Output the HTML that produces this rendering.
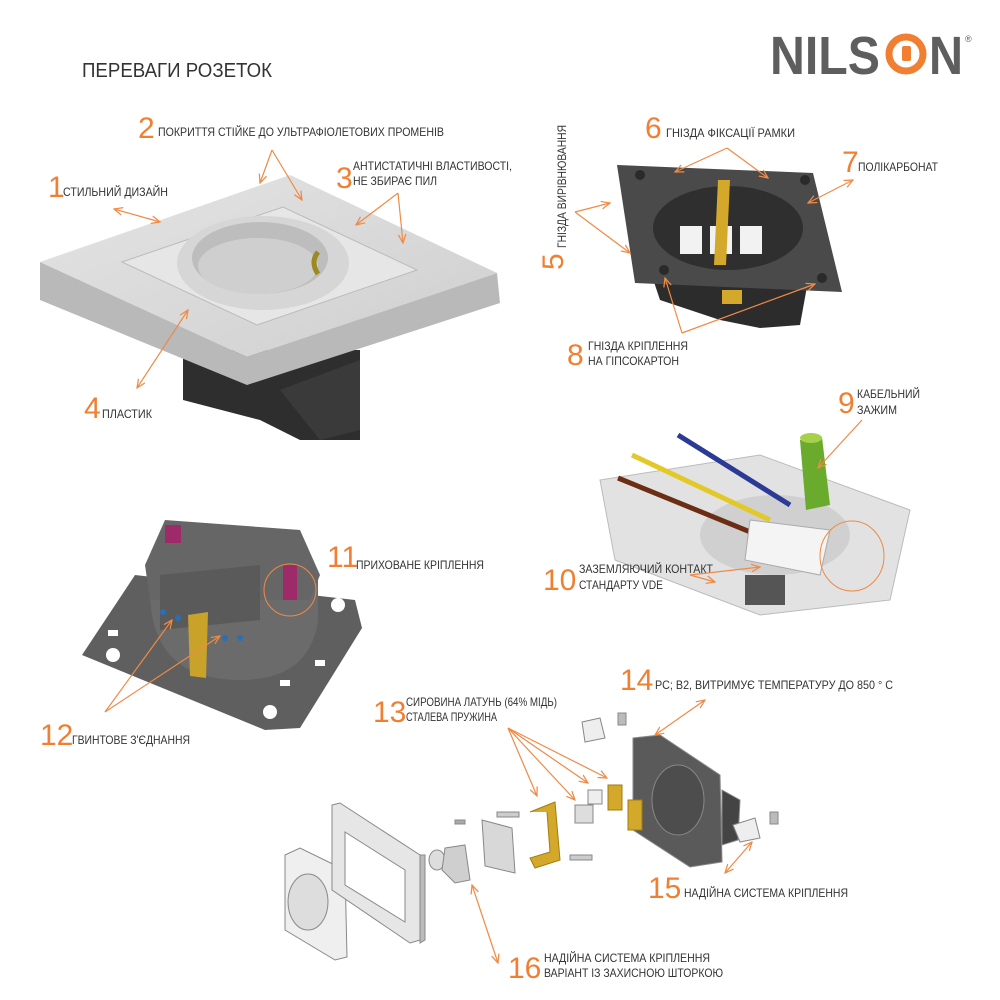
<!DOCTYPE html>
<html><head><meta charset="utf-8"><style>
body{margin:0;background:#fff}
svg{display:block}
.n{font-family:"Liberation Sans",sans-serif;fill:#f07f32;font-size:30px}
.t{font-family:"Liberation Sans",sans-serif;fill:#333;font-size:12px}
.a{stroke:#f08a45;stroke-width:1.2;fill:none;marker-start:url(#h);marker-end:url(#h)}
.s{stroke:#f08a45;stroke-width:1.2;fill:none;marker-end:url(#h)}
</style></head><body>
<svg width="1000" height="1000" viewBox="0 0 1000 1000" xmlns="http://www.w3.org/2000/svg">
<defs>
<marker id="h" viewBox="0 0 10 10" refX="9" refY="5" markerWidth="8" markerHeight="8" orient="auto-start-reverse"><path d="M0,1 L9,5 L0,9" fill="none" stroke="#f08a45" stroke-width="1.3"/></marker>
<linearGradient id="pl" x1="0" y1="0" x2="1" y2="1"><stop offset="0" stop-color="#e4e4e4"/><stop offset="1" stop-color="#cfcfcf"/></linearGradient>
</defs>
<text x="82" y="77" style="font-family:'Liberation Sans',sans-serif;font-size:20px;fill:#333" textLength="190" lengthAdjust="spacingAndGlyphs">ПЕРЕВАГИ РОЗЕТОК</text>
<!-- logo -->
<text x="770" y="74" style="font-family:'Liberation Sans',sans-serif;font-weight:bold;font-size:54px;fill:#5e5e5e" textLength="110" lengthAdjust="spacingAndGlyphs">NILS</text>
<circle cx="906" cy="54" r="17" fill="none" stroke="#f07f32" stroke-width="7"/>
<rect x="902" y="46" width="9" height="15" rx="2" fill="#f07f32"/>
<text x="929" y="74" style="font-family:'Liberation Sans',sans-serif;font-weight:bold;font-size:54px;fill:#5e5e5e" textLength="34" lengthAdjust="spacingAndGlyphs">N</text>
<text x="965" y="42" style="font-family:'Liberation Sans',sans-serif;font-size:9px;fill:#5e5e5e">®</text>

<!-- socket 1 -->
<g>
<polygon points="183,350 360,350 360,440 300,440 260,420 183,400" fill="#2e2e2e"/>
<polygon points="280,390 360,360 360,430 320,440" fill="#3a3a3a"/>
<polygon points="40,262 40,300 247,385 500,303 497,273 247,357" fill="#b9b9b9"/>
<polygon points="40,262 290,175 497,273 247,357" fill="url(#pl)"/>
<polygon points="122,262 283,207 417,270 257,325" fill="#e6e6e6" stroke="#bbb"/>
<ellipse cx="263" cy="263" rx="86" ry="47" fill="#d6d6d6"/>
<ellipse cx="260" cy="258" rx="68" ry="36" fill="#bdbdbd"/>
<ellipse cx="258" cy="266" rx="60" ry="28" fill="#cfcfcf"/>
<path d="M318,252 q-8,10 0,22" stroke="#9a8a20" stroke-width="5" fill="none"/>
</g>
<text class="n" x="138" y="138">2</text><text class="t" x="158" y="136" textLength="286" lengthAdjust="spacingAndGlyphs">ПОКРИТТЯ СТІЙКЕ ДО УЛЬТРАФІОЛЕТОВИХ ПРОМЕНІВ</text>
<line class="s" x1="272" y1="150" x2="260" y2="183"/><line class="s" x1="272" y1="150" x2="302" y2="200"/>
<text class="n" x="336" y="188">3</text><text class="t" x="353" y="170" textLength="159" lengthAdjust="spacingAndGlyphs">АНТИСТАТИЧНІ ВЛАСТИВОСТІ,</text><text class="t" x="353" y="185" textLength="84" lengthAdjust="spacingAndGlyphs">НЕ ЗБИРАЄ ПИЛ</text>
<line class="s" x1="398" y1="193" x2="356" y2="225"/><line class="s" x1="398" y1="193" x2="403" y2="243"/>
<text class="n" x="48" y="197">1</text><text class="t" x="63" y="196" textLength="105" lengthAdjust="spacingAndGlyphs">СТИЛЬНИЙ ДИЗАЙН</text>
<line class="a" x1="114" y1="209" x2="160" y2="222"/>
<text class="n" x="84" y="418">4</text><text class="t" x="102" y="418" textLength="50" lengthAdjust="spacingAndGlyphs">ПЛАСТИК</text>
<line class="a" x1="137" y1="388" x2="188" y2="310"/>

<!-- socket 2 -->
<g>
<polygon points="650,270 810,270 800,325 760,328 720,320 660,300" fill="#2c2c2c"/>
<polygon points="617,165 813,173 842,292 635,283" fill="#4a4a4a"/>
<ellipse cx="728" cy="228" rx="75" ry="42" fill="#2f2f2f"/>
<rect x="680" y="226" width="22" height="28" fill="#f2f2f2"/><rect x="710" y="226" width="22" height="28" fill="#f2f2f2"/><rect x="740" y="226" width="22" height="28" fill="#f2f2f2"/>
<polygon points="718,180 730,180 726,265 714,265" fill="#d4a82a"/>
<rect x="722" y="290" width="20" height="14" fill="#d4a82a"/>
<circle cx="640" cy="175" r="5" fill="#2a2a2a"/><circle cx="805" cy="180" r="5" fill="#2a2a2a"/><circle cx="664" cy="270" r="5" fill="#2a2a2a"/><circle cx="822" cy="278" r="5" fill="#2a2a2a"/>
</g>
<text class="n" x="645" y="138">6</text><text class="t" x="666" y="137" textLength="129" lengthAdjust="spacingAndGlyphs">ГНІЗДА ФІКСАЦІЇ РАМКИ</text>
<line class="s" x1="727" y1="148" x2="675" y2="172"/><line class="s" x1="727" y1="148" x2="768" y2="178"/>
<text class="n" x="842" y="172">7</text><text class="t" x="858" y="171" textLength="80" lengthAdjust="spacingAndGlyphs">ПОЛІКАРБОНАТ</text>
<line class="a" x1="853" y1="180" x2="808" y2="203"/>
<text class="n" x="563" y="270" transform="rotate(-90 563 270)" style="font-size:30px">5</text>
<text class="t" x="566" y="248" transform="rotate(-90 566 248)" textLength="123" lengthAdjust="spacingAndGlyphs">ГНІЗДА ВИРІВНЮВАННЯ</text>
<line class="s" x1="575" y1="212" x2="610" y2="203"/><line class="s" x1="575" y1="212" x2="630" y2="253"/>
<text class="n" x="567" y="365">8</text><text class="t" x="588" y="350" textLength="100" lengthAdjust="spacingAndGlyphs">ГНІЗДА КРІПЛЕННЯ</text><text class="t" x="588" y="365" textLength="91" lengthAdjust="spacingAndGlyphs">НА ГІПСОКАРТОН</text>
<line class="s" x1="682" y1="333" x2="665" y2="278"/><line class="s" x1="682" y1="333" x2="815" y2="284"/>

<!-- socket 3 -->
<g>
<polygon points="600,480 760,455 910,510 890,600 760,615 615,560" fill="#e2e2e2" stroke="#bbb"/>
<ellipse cx="775" cy="535" rx="75" ry="40" fill="#d0d0d0"/>
<line x1="678" y1="435" x2="790" y2="505" stroke="#2b3a94" stroke-width="5"/>
<line x1="632" y1="455" x2="770" y2="520" stroke="#e2c927" stroke-width="5"/>
<line x1="618" y1="478" x2="770" y2="540" stroke="#6b2e15" stroke-width="5"/>
<polygon points="800,440 822,437 830,505 806,510" fill="#6aab2e"/>
<ellipse cx="811" cy="438" rx="11" ry="5" fill="#a8d14a"/>
<polygon points="750,520 830,530 820,575 745,560" fill="#f4f4f4" stroke="#aaa"/>
<rect x="745" y="575" width="40" height="30" fill="#555"/>
<ellipse cx="852" cy="556" rx="32" ry="35" fill="none" stroke="#f08a45"/>
</g>
<text class="n" x="838" y="413">9</text><text class="t" x="857" y="398" textLength="63" lengthAdjust="spacingAndGlyphs">КАБЕЛЬНИЙ</text><text class="t" x="857" y="414" textLength="40" lengthAdjust="spacingAndGlyphs">ЗАЖИМ</text>
<line class="s" x1="862" y1="420" x2="818" y2="468"/>
<text class="n" x="543" y="590">10</text><text class="t" x="579" y="573" textLength="134" lengthAdjust="spacingAndGlyphs">ЗАЗЕМЛЯЮЧИЙ КОНТАКТ</text><text class="t" x="579" y="589" textLength="84" lengthAdjust="spacingAndGlyphs">СТАНДАРТУ VDE</text>
<line class="s" x1="690" y1="575" x2="760" y2="567"/><line class="s" x1="690" y1="575" x2="715" y2="582"/>

<!-- socket 4 -->
<g>
<polygon points="82,655 135,575 355,600 362,628 300,728 265,730" fill="#5f5f5f"/>
<circle cx="113" cy="655" r="7" fill="#fff"/><circle cx="338" cy="605" r="7" fill="#fff"/><circle cx="270" cy="712" r="7" fill="#fff"/>
<rect x="108" y="630" width="10" height="6" fill="#fff"/><rect x="280" y="680" width="10" height="6" fill="#fff"/><rect x="315" y="660" width="10" height="6" fill="#fff"/>
<path d="M150,590 Q150,680 240,680 Q310,680 318,620 L318,580 L150,570 Z" fill="#6b6b6b"/>
<polygon points="145,565 165,520 300,530 320,575 310,600 150,600" fill="#666"/>
<polygon points="160,575 260,565 260,620 160,630" fill="#5a5a5a"/>
<polygon points="188,615 208,612 206,678 190,676" fill="#c9a22a"/>
<circle cx="163" cy="612" r="3" fill="#2a6fb5"/><circle cx="178" cy="618" r="3" fill="#2a6fb5"/><circle cx="225" cy="638" r="3" fill="#2a6fb5"/><circle cx="240" cy="638" r="3" fill="#2a6fb5"/>
<rect x="283" y="565" width="14" height="35" fill="#9e2a6a"/><rect x="165" y="525" width="16" height="18" fill="#9e2a6a"/>
<circle cx="290" cy="590" r="26" fill="none" stroke="#f08a45"/>
</g>
<text class="n" x="327" y="567">11</text><text class="t" x="356" y="569" textLength="128" lengthAdjust="spacingAndGlyphs">ПРИХОВАНЕ КРІПЛЕННЯ</text>
<text class="n" x="40" y="745">12</text><text class="t" x="72" y="744" textLength="118" lengthAdjust="spacingAndGlyphs">ГВИНТОВЕ З'ЄДНАННЯ</text>
<line class="s" x1="105" y1="712" x2="172" y2="620"/><line class="s" x1="105" y1="712" x2="220" y2="636"/>

<!-- exploded -->
<g stroke="#888" stroke-width="1">
<polygon points="285,855 300,848 345,870 347,957 335,960 285,930" fill="#efefef"/>
<ellipse cx="308" cy="902" rx="20" ry="28" fill="#ddd"/>
<polygon points="332,805 340,803 420,855 420,940 410,943 332,890" fill="#e6e6e6"/>
<polygon points="345,832 405,870 405,922 345,885" fill="#fff"/>
<polygon points="425,855 425,940 420,943 420,855" fill="#bbb"/>
<ellipse cx="437" cy="860" rx="8" ry="10" fill="#ddd"/>
<polygon points="445,848 465,845 470,880 455,883 442,870" fill="#cfcfcf"/>
<polygon points="482,820 512,828 515,873 485,866" fill="#d8d8d8"/>
<rect x="455" y="820" width="10" height="4" fill="#aaa"/>
<rect x="497" y="812" width="22" height="5" fill="#ccc"/>
<rect x="570" y="855" width="22" height="5" fill="#ccc"/>
<path d="M530,812 L555,802 L560,860 L535,868 L530,858 L550,852 L547,812" fill="#d4a82a" stroke="#a07e10"/>
<rect x="575" y="805" width="18" height="18" fill="#ddd"/><rect x="588" y="790" width="14" height="14" fill="#eee"/>
<rect x="608" y="785" width="14" height="25" fill="#d4a82a" stroke="#a07e10"/>
<polygon points="633,738 660,735 720,775 722,862 690,867 633,830" fill="#5a5a5a"/>
<ellipse cx="678" cy="800" rx="26" ry="35" fill="#4d4d4d"/>
<polygon points="722,790 740,800 738,840 722,845" fill="#444"/>
<rect x="628" y="800" width="14" height="30" fill="#d4a82a" stroke="#a07e10"/>
<polygon points="582,722 600,718 605,738 585,742" fill="#eee"/><rect x="618" y="713" width="8" height="12" fill="#bbb"/>
<polygon points="733,825 755,818 760,838 740,842" fill="#eee"/><rect x="770" y="812" width="8" height="12" fill="#bbb"/>
</g>
<text class="n" x="620" y="690">14</text><text class="t" x="655" y="689" textLength="238" lengthAdjust="spacingAndGlyphs">PC;  B2, ВИТРИМУЄ ТЕМПЕРАТУРУ ДО 850 ° C</text>
<line class="a" x1="705" y1="700" x2="655" y2="735"/>
<text class="n" x="373" y="722">13</text><text class="t" x="406" y="706" textLength="151" lengthAdjust="spacingAndGlyphs">СИРОВИНА ЛАТУНЬ (64% МІДЬ)</text><text class="t" x="406" y="721" textLength="91" lengthAdjust="spacingAndGlyphs">СТАЛЕВА ПРУЖИНА</text>
<line class="s" x1="508" y1="728" x2="537" y2="796"/><line class="s" x1="508" y1="728" x2="575" y2="800"/><line class="s" x1="508" y1="728" x2="588" y2="783"/><line class="s" x1="508" y1="728" x2="607" y2="778"/>
<text class="n" x="648" y="898">15</text><text class="t" x="684" y="897" textLength="164" lengthAdjust="spacingAndGlyphs">НАДІЙНА СИСТЕМА КРІПЛЕННЯ</text>
<line class="a" x1="725" y1="873" x2="752" y2="842"/>
<text class="n" x="508" y="978">16</text><text class="t" x="544" y="962" textLength="166" lengthAdjust="spacingAndGlyphs">НАДІЙНА СИСТЕМА КРІПЛЕННЯ</text><text class="t" x="544" y="977" textLength="179" lengthAdjust="spacingAndGlyphs">ВАРІАНТ ІЗ ЗАХИСНОЮ ШТОРКОЮ</text>
<line class="a" x1="498" y1="963" x2="472" y2="885"/>
</svg>
</body></html>
